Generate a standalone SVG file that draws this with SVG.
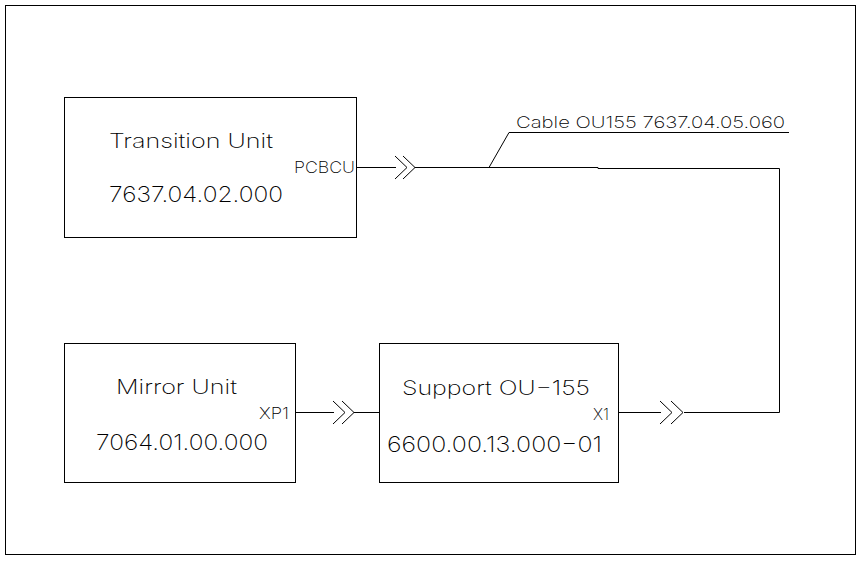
<svg xmlns="http://www.w3.org/2000/svg" width="862" height="562" viewBox="0 0 862 562">
<style>
.box{fill:none;stroke:#000;stroke-width:1}
.ln{fill:none;stroke:#000;stroke-width:1}
text{font-family:Inter,"Liberation Sans",Arial,sans-serif;font-weight:200;fill:#000}
.t1{font-size:20px}
.t2{font-size:22px}
.lbl{font-size:16px}
</style>
<rect width="862" height="562" fill="#fff"/>
<rect x="5.5" y="5.5" width="850" height="549" class="box"/>
<g id="transition-unit">
<rect x="64.5" y="97.5" width="292" height="140" class="box"/>
<text class="t1" x="109" y="148" textLength="164" lengthAdjust="spacingAndGlyphs">Transition Unit</text>
<text class="t2" x="109" y="202" textLength="174" lengthAdjust="spacingAndGlyphs">7637.04.02.000</text>
<text class="lbl" x="294" y="173" textLength="61" lengthAdjust="spacingAndGlyphs">PCBCU</text>
</g>
<g id="mirror-unit">
<rect x="64.5" y="343.5" width="231" height="139" class="box"/>
<text class="t1" x="116" y="394" textLength="121" lengthAdjust="spacingAndGlyphs">Mirror Unit</text>
<text class="t2" x="96" y="450" textLength="172" lengthAdjust="spacingAndGlyphs">7064.01.00.000</text>
<text class="lbl" x="259" y="418.5" textLength="30" lengthAdjust="spacingAndGlyphs">XP1</text>
</g>
<g id="support-ou155">
<rect x="379.5" y="343.5" width="239" height="139" class="box"/>
<text class="t1" x="402" y="395" textLength="188" lengthAdjust="spacingAndGlyphs">Support OU−155</text>
<text class="t2" x="387" y="452" textLength="215" lengthAdjust="spacingAndGlyphs">6600.00.13.000−01</text>
<text class="lbl" x="593" y="420" textLength="16" lengthAdjust="spacingAndGlyphs">X1</text>
</g>
<g id="connectors">
<polyline class="ln" points="356.5,167.5 396,167.5"/>
<polyline class="ln" points="395,156 407,167.5 395,179"/>
<polyline class="ln" points="403,156 415,167.5 403,179"/>
<polyline class="ln" points="415,167.5 598,167.5 598,168.5 779.5,168.5 779.5,412.5 684,412.5"/>
<polyline class="ln" points="489,167.5 509,132.5 789,132.5"/>
<text class="lbl" x="516" y="127.5" textLength="269" lengthAdjust="spacingAndGlyphs">Cable OU155 7637.04.05.060</text>
<polyline class="ln" points="295.5,412.5 334,412.5"/>
<polyline class="ln" points="333,401 345,412.5 333,424"/>
<polyline class="ln" points="342,401 354,412.5 342,424"/>
<polyline class="ln" points="354,412.5 379.5,412.5"/>
<polyline class="ln" points="618.5,412.5 661,412.5"/>
<polyline class="ln" points="660,401 672,412.5 660,424"/>
<polyline class="ln" points="671,401 683,412.5 671,424"/>
</g>
</svg>
